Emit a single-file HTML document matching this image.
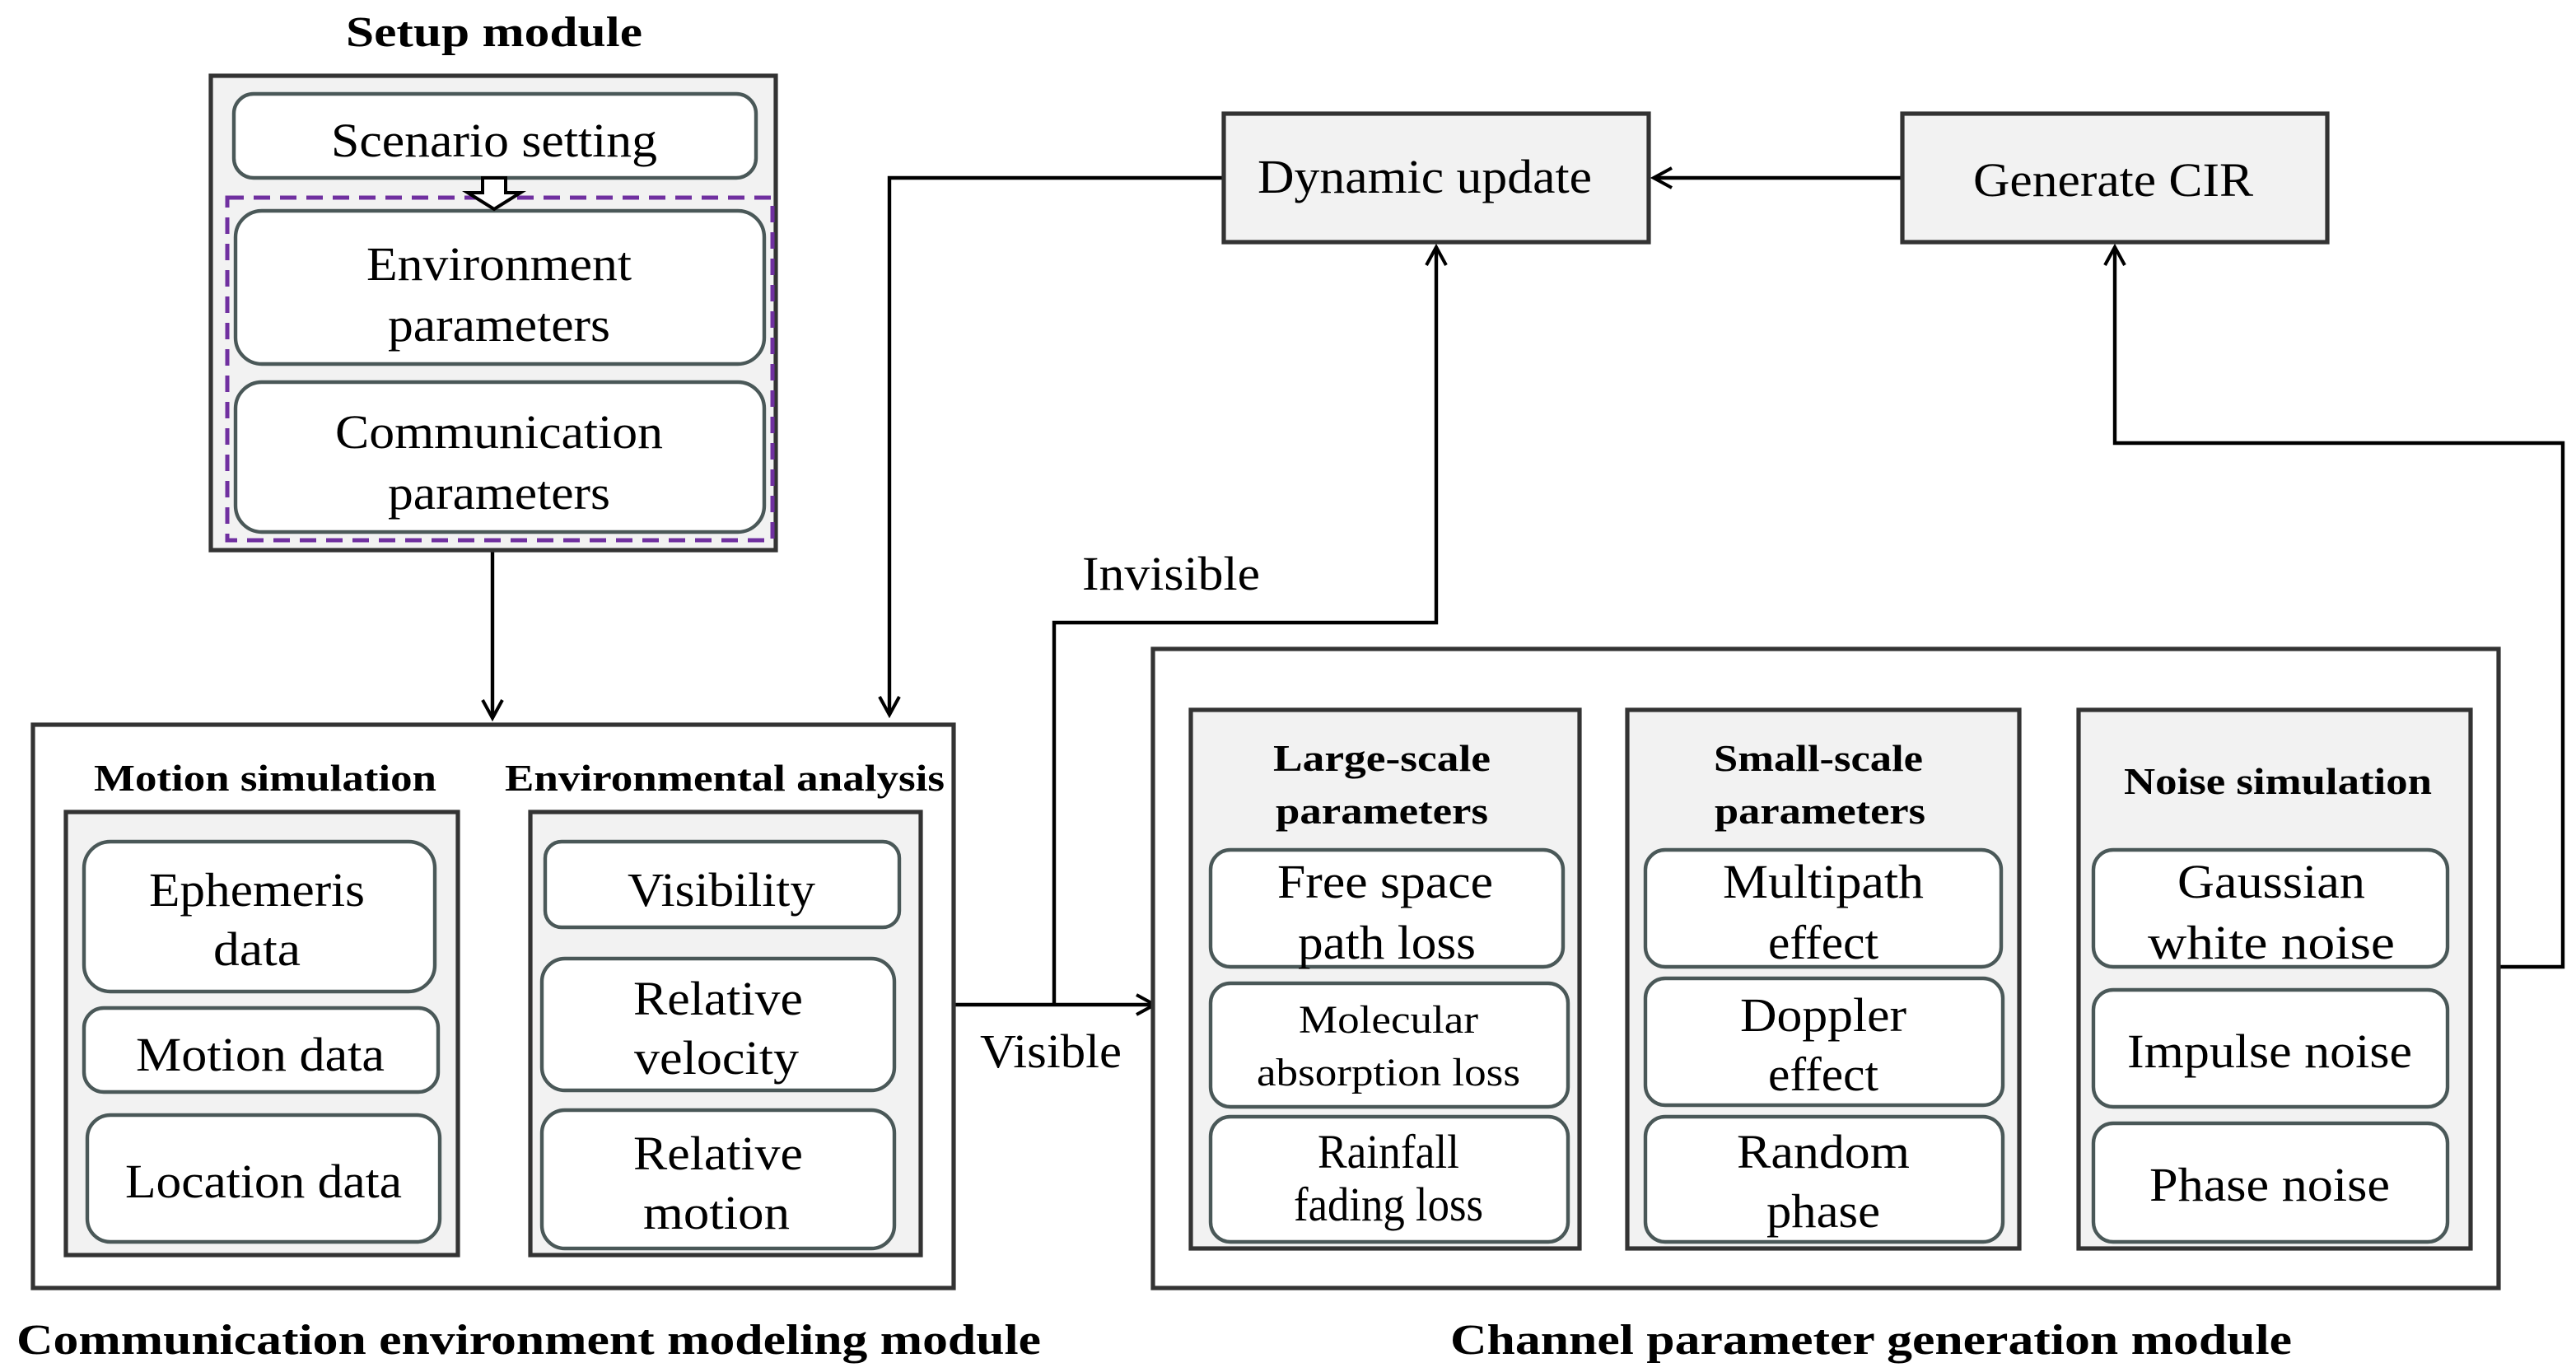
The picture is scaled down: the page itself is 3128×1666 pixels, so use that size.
<!DOCTYPE html>
<html><head><meta charset="utf-8"><style>html,body{margin:0;padding:0;background:#fff}svg{display:block}svg text{font-family:"Liberation Serif","Times New Roman",serif}</style></head>
<body>
<svg xmlns="http://www.w3.org/2000/svg" width="3128" height="1666" viewBox="0 0 1564 833">
<defs>
<marker id="ah" markerWidth="14" markerHeight="14" refX="12" refY="7" orient="auto" markerUnits="userSpaceOnUse">
<path d="M1,1 L12,7 L1,13" fill="none" stroke="#000" stroke-width="2"/>
</marker>
</defs>
<rect width="1564" height="833" fill="#fff"/>
<g fill="none" stroke="#000" stroke-width="2.2">
<path d="M299,334 V436" marker-end="url(#ah)"/>
<path d="M743,108 H540 V434" marker-end="url(#ah)"/>
<path d="M1155,108 H1004" marker-end="url(#ah)"/>
<path d="M579,610 H701" marker-end="url(#ah)"/>
<path d="M640,610 V378 H872 V150" marker-end="url(#ah)"/>
<path d="M1517,587 H1556 V269 H1284 V150" marker-end="url(#ah)"/>
</g>
<g stroke="#333" stroke-width="2.6">
<rect x="128" y="46" width="343" height="288" fill="#f2f2f2"/>
<rect x="20" y="440" width="559" height="342" fill="#fff"/>
<rect x="700" y="394" width="817" height="388" fill="#fff"/>
<rect x="743" y="69" width="258" height="78" fill="#f2f2f2"/>
<rect x="1155" y="69" width="258" height="78" fill="#f2f2f2"/>
<rect x="40" y="493" width="238" height="269" fill="#f2f2f2"/>
<rect x="322" y="493" width="237" height="269" fill="#f2f2f2"/>
<rect x="723" y="431" width="236" height="327" fill="#f2f2f2"/>
<rect x="988" y="431" width="238" height="327" fill="#f2f2f2"/>
<rect x="1262" y="431" width="238" height="327" fill="#f2f2f2"/>
</g>
<rect x="138" y="120" width="331" height="208" fill="none" stroke="#7030a0" stroke-width="2.5" stroke-dasharray="10,6"/>
<g fill="#fff" stroke="#4a5858" stroke-width="2.2">
<rect x="142" y="57" width="317" height="51" rx="12"/>
<rect x="143" y="128" width="321" height="93" rx="16"/>
<rect x="143" y="232" width="321" height="91" rx="16"/>
<rect x="51" y="511" width="213" height="91" rx="16"/>
<rect x="51" y="612" width="215" height="51" rx="12"/>
<rect x="53" y="677" width="214" height="77" rx="14"/>
<rect x="331" y="511" width="215" height="52" rx="10"/>
<rect x="329" y="582" width="214" height="80" rx="14"/>
<rect x="329" y="674" width="214" height="84" rx="14"/>
<rect x="735" y="516" width="214" height="71" rx="12"/>
<rect x="735" y="597" width="217" height="75" rx="12"/>
<rect x="735" y="678" width="217" height="76" rx="12"/>
<rect x="999" y="516" width="216" height="71" rx="12"/>
<rect x="999" y="594" width="217" height="77" rx="12"/>
<rect x="999" y="678" width="217" height="76" rx="12"/>
<rect x="1271" y="516" width="215" height="71" rx="12"/>
<rect x="1271" y="601" width="215" height="71" rx="12"/>
<rect x="1271" y="682" width="215" height="72" rx="12"/>
</g>
<path d="M293,108 H307 V117 H316 L300,127 L284,117 H293 Z" fill="#fff" stroke="#000" stroke-width="2"/>
<g text-anchor="middle" fill="#000">
<g font-weight="bold" font-size="26">
<text x="300" y="28" textLength="180" lengthAdjust="spacingAndGlyphs">Setup module</text>
<text x="161" y="480" textLength="208" lengthAdjust="spacingAndGlyphs" font-size="23">Motion simulation</text>
<text x="440" y="480" textLength="267" lengthAdjust="spacingAndGlyphs" font-size="23">Environmental analysis</text>
<text x="321" y="822" textLength="622" lengthAdjust="spacingAndGlyphs">Communication environment modeling module</text>
<text x="1136" y="822" textLength="511" lengthAdjust="spacingAndGlyphs">Channel parameter generation module</text>
<text x="839" y="468" textLength="132" lengthAdjust="spacingAndGlyphs" font-size="23">Large-scale</text>
<text x="839" y="500" textLength="129" lengthAdjust="spacingAndGlyphs" font-size="23">parameters</text>
<text x="1104" y="468" textLength="127" lengthAdjust="spacingAndGlyphs" font-size="23">Small-scale</text>
<text x="1105" y="500" textLength="128" lengthAdjust="spacingAndGlyphs" font-size="23">parameters</text>
<text x="1383" y="482" textLength="187" lengthAdjust="spacingAndGlyphs" font-size="23">Noise simulation</text>
</g>
<g font-size="29">
<text x="300" y="95" textLength="198" lengthAdjust="spacingAndGlyphs">Scenario setting</text>
<text x="303" y="170" textLength="161" lengthAdjust="spacingAndGlyphs">Environment</text>
<text x="303" y="207" textLength="135" lengthAdjust="spacingAndGlyphs">parameters</text>
<text x="303" y="272" textLength="199" lengthAdjust="spacingAndGlyphs">Communication</text>
<text x="303" y="309" textLength="135" lengthAdjust="spacingAndGlyphs">parameters</text>
<text x="156" y="550" textLength="131" lengthAdjust="spacingAndGlyphs">Ephemeris</text>
<text x="156" y="586" textLength="53" lengthAdjust="spacingAndGlyphs">data</text>
<text x="158" y="650" textLength="151" lengthAdjust="spacingAndGlyphs">Motion data</text>
<text x="160" y="727" textLength="168" lengthAdjust="spacingAndGlyphs">Location data</text>
<text x="438" y="550" textLength="114" lengthAdjust="spacingAndGlyphs">Visibility</text>
<text x="436" y="616" textLength="103" lengthAdjust="spacingAndGlyphs">Relative</text>
<text x="435" y="652" textLength="100" lengthAdjust="spacingAndGlyphs">velocity</text>
<text x="436" y="710" textLength="103" lengthAdjust="spacingAndGlyphs">Relative</text>
<text x="435" y="746" textLength="89" lengthAdjust="spacingAndGlyphs">motion</text>
<text x="638" y="648" textLength="86" lengthAdjust="spacingAndGlyphs">Visible</text>
<text x="711" y="358" textLength="108" lengthAdjust="spacingAndGlyphs">Invisible</text>
<text x="865" y="117" textLength="203" lengthAdjust="spacingAndGlyphs">Dynamic update</text>
<text x="1283" y="119" textLength="170" lengthAdjust="spacingAndGlyphs">Generate CIR</text>
<text x="841" y="545" textLength="131" lengthAdjust="spacingAndGlyphs">Free space</text>
<text x="842" y="582" textLength="108" lengthAdjust="spacingAndGlyphs">path loss</text>
<text x="843" y="709" textLength="86" lengthAdjust="spacingAndGlyphs">Rainfall</text>
<text x="843" y="741" textLength="115" lengthAdjust="spacingAndGlyphs">fading loss</text>
<text x="1107" y="545" textLength="122" lengthAdjust="spacingAndGlyphs">Multipath</text>
<text x="1107" y="582" textLength="67" lengthAdjust="spacingAndGlyphs">effect</text>
<text x="1107" y="626" textLength="101" lengthAdjust="spacingAndGlyphs">Doppler</text>
<text x="1107" y="662" textLength="67" lengthAdjust="spacingAndGlyphs">effect</text>
<text x="1107" y="709" textLength="105" lengthAdjust="spacingAndGlyphs">Random</text>
<text x="1107" y="745" textLength="69" lengthAdjust="spacingAndGlyphs">phase</text>
<text x="1379" y="545" textLength="114" lengthAdjust="spacingAndGlyphs">Gaussian</text>
<text x="1379" y="582" textLength="150" lengthAdjust="spacingAndGlyphs">white noise</text>
<text x="1378" y="648" textLength="173" lengthAdjust="spacingAndGlyphs">Impulse noise</text>
<text x="1378" y="729" textLength="146" lengthAdjust="spacingAndGlyphs">Phase noise</text>
</g>
<g font-size="24">
<text x="843" y="627" textLength="109" lengthAdjust="spacingAndGlyphs">Molecular</text>
<text x="843" y="659" textLength="160" lengthAdjust="spacingAndGlyphs">absorption loss</text>
</g>
</g>
</svg>
</body></html>
